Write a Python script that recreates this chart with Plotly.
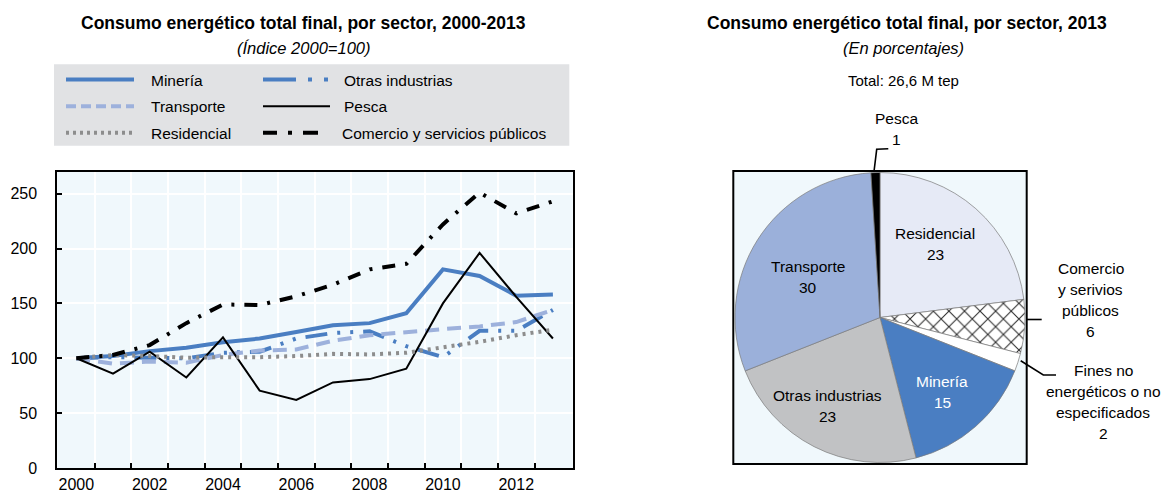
import plotly.graph_objects as go

W, H = 1163, 495
FONT = "Liberation Sans, Arial, Helvetica, sans-serif"

# ---------------- data ----------------
years = list(range(2000, 2014))
mineria = [100, 102, 106.5, 109.5, 114.5, 118, 124, 130, 132, 141, 181, 175, 157, 158]
otras = [100, 101, 100.5, 100, 105, 106, 118, 123, 124.5, 111, 101, 125, 125, 144]
transporte = [100, 95, 97, 96, 103, 107, 108, 116, 121, 124, 126.5, 129, 133, 144]
pesca = [100, 86, 106, 82.5, 119, 70.5, 62, 78, 81, 90.5, 150, 196, 156, 118]
residencial = [100, 103, 102, 100.5, 101, 101, 102, 104, 103.5, 105, 110, 115, 121, 126]
comercio = [100, 103, 112, 132, 149, 148.5, 156.5, 167, 181, 186, 222, 251, 232, 243]

series_names = ["Minería", "Otras industrias", "Transporte", "Pesca", "Residencial",
                "Comercio y servicios públicos"]
series_values = [mineria, otras, transporte, pesca, residencial, comercio]

x_tick_labels = [2000, 2002, 2004, 2006, 2008, 2010, 2012]
y_tick_labels = [0, 50, 100, 150, 200, 250]

pie_labels = ["Residencial", "Comercio y serivios públicos",
              "Fines no energéticos o no especificados", "Minería",
              "Otras industrias", "Transporte", "Pesca"]
pie_values = [23, 6, 2, 15, 23, 30, 1]
pie_label_lines = [["Residencial"], ["Comercio", "y serivios", "públicos"],
                   ["Fines no", "energéticos o no", "especificados"], ["Minería"],
                   ["Otras industrias"], ["Transporte"], ["Pesca"]]

title_left = "Consumo energético total final, por sector, 2000-2013"
sub_left = "(Índice 2000=100)"
title_right = "Consumo energético total final, por sector, 2013"
sub_right = "(En porcentajes)"
total_text = "Total: 26,6 M tep"

# ---------------- styles ----------------
BLUE = "#4A7EC2"
LBLUE = "#9DB1DC"
GRAY = "#8D8D8D"
BASE = 15.5
styles = {
    "Minería": dict(color=BLUE, width=4, dash="solid"),
    "Otras industrias": dict(color=BLUE, width=4, dash="22px,10px,3px,10px,3px,10px"),
    "Transporte": dict(color=LBLUE, width=4, dash="14px,8px"),
    "Pesca": dict(color="black", width=2, dash="solid"),
    "Residencial": dict(color=GRAY, width=4, dash="3px,5px"),
    "Comercio y servicios públicos": dict(color="black", width=4, dash="13px,10px,3px,10px"),
}
legend_dash = {
    "Minería": "solid",
    "Otras industrias": "33px,12px,4px,12px,4px,20px",
    "Transporte": "10px,5px",
    "Pesca": "solid",
    "Residencial": "3px,4px",
    "Comercio y servicios públicos": "14px,11px,4px,11px,15px",
}
pie_colors = ["#E6EAF6", "white", "white", "#4A7EC2", "#C1C2C4", "#9BB0DA", "black"]
pie_patterns = ["", "x", "", "", "", "", ""]
pie_text_colors = ["black", "black", "black", "white", "black", "black", "black"]


def px(x):
    return x / W


def py(y):
    return 1 - y / H


fig = go.Figure()

for name, vals in zip(series_names, series_values):
    st = styles[name]
    fig.add_trace(go.Scatter(x=years, y=vals, mode="lines", name=name,
                             line=dict(color=st["color"], width=st["width"], dash=st["dash"]),
                             showlegend=False, xaxis="x", yaxis="y"))

# pie
pie_box = (733.3, 171.0, 1026.7, 464.0)
fig.add_trace(go.Pie(
    labels=pie_labels, values=pie_values, sort=False, direction="clockwise", rotation=0,
    marker=dict(colors=pie_colors, line=dict(color="#7A7A7A", width=0.7),
                pattern=dict(shape=pie_patterns, fgcolor="#2B2B2B", bgcolor="white",
                             size=11, solidity=0.18)),
    textinfo="none", hoverinfo="label+value", showlegend=False,
    domain=dict(x=[px(pie_box[0] + 1.5), px(pie_box[2] - 1.5)],
                y=[py(pie_box[3] - 1.5), py(pie_box[1] + 1.5)]),
))

x0, x1, ytop, ybot = 57.3, 572.7, 171.7, 468.0
fig.update_layout(
    width=W, height=H, margin=dict(l=0, r=0, t=0, b=0),
    paper_bgcolor="white", plot_bgcolor="#F0F8FC",
    font=dict(family=FONT, size=BASE, color="black"),
    xaxis=dict(domain=[px(x0), px(x1)], range=[1999.48, 2013.54], automargin=False,
               tickmode="array", tickvals=x_tick_labels, ticktext=[str(v) for v in x_tick_labels],
               ticks="", showgrid=False, zeroline=False,
               showline=True, linecolor="black", linewidth=2, mirror=True,
               tickfont=dict(size=16), ticklabelstandoff=1,
               minor=dict(tickmode="array", tickvals=[y + 0.5 for y in years[:-1]],
                          ticks="inside", ticklen=5, tickwidth=1.5, tickcolor="black",
                          showgrid=True, gridcolor="white", gridwidth=1.5)),
    yaxis=dict(domain=[py(ybot), py(ytop)], range=[0, 270], automargin=False,
               tickmode="array", tickvals=y_tick_labels,
               ticks="inside", ticklen=5, tickwidth=1.5, tickcolor="black",
               showgrid=True, gridcolor="white", gridwidth=1.5, zeroline=False,
               showline=True, linecolor="black", linewidth=2, mirror=True,
               tickfont=dict(size=16), ticklabelstandoff=15),
)

shapes = []
annotations = []


def ann(text, x, y, size=BASE, color="black", xanchor="center", bold=False, italic=False):
    if bold:
        text = "<b>" + text + "</b>"
    if italic:
        text = "<i>" + text + "</i>"
    annotations.append(dict(text=text, x=px(x), y=py(y), xref="paper", yref="paper",
                            xanchor=xanchor, yanchor="middle", showarrow=False,
                            font=dict(size=size, color=color, family=FONT)))


# titles
ann(title_left, 303, 23, size=17.5, bold=True)
ann(sub_left, 303, 48.5, size=16.5, italic=True)
ann(title_right, 906.5, 23, size=17.5, bold=True)
ann(sub_right, 903, 48.5, size=16.5, italic=True)
ann(total_text, 903, 80, size=15)

# manual legend
shapes.append(dict(type="rect", xref="paper", yref="paper", x0=px(54), x1=px(569.3),
                   y0=py(145.7), y1=py(64.3), fillcolor="#E1E2E4", line=dict(width=0),
                   layer="below"))
legend_pos = {
    "Minería": (66, 134, 148.5, 80),
    "Transporte": (66, 134, 148.5, 106.7),
    "Residencial": (66, 134, 148.5, 133.3),
    "Otras industrias": (263, 330, 341.5, 80),
    "Pesca": (263, 330, 341.5, 106.7),
    "Comercio y servicios públicos": (263, 330, 339.5, 133.3),
}
for name in series_names:
    sx0, sx1, tx, ty = legend_pos[name]
    st = styles[name]
    shapes.append(dict(type="line", xref="paper", yref="paper", x0=px(sx0), x1=px(sx1),
                       y0=py(ty - 0.5), y1=py(ty - 0.5),
                       line=dict(color=st["color"], width=st["width"], dash=legend_dash[name])))
    ann(name, tx, ty, xanchor="left")

# pie frame
shapes.append(dict(type="rect", xref="paper", yref="paper", x0=px(pie_box[0]), x1=px(pie_box[2]),
                   y0=py(pie_box[3]), y1=py(pie_box[1]), fillcolor="#F0F8FC",
                   line=dict(color="black", width=2), layer="below"))

# pie labels (first-line centre positions)
label_pos = {
    "Residencial": (935, 233.3),
    "Comercio y serivios públicos": (1090.7, 268.3),
    "Fines no energéticos o no especificados": (1103.3, 370),
    "Minería": (942.3, 381.7),
    "Otras industrias": (827.7, 395),
    "Transporte": (807.7, 266.7),
    "Pesca": (896.7, 118.3),
}
LINE_H = 21.2
for lab, lines, val, tc in zip(pie_labels, pie_label_lines, pie_values, pie_text_colors):
    lx, ly = label_pos[lab]
    for i, t in enumerate(lines + [str(val)]):
        ann(t, lx, ly + i * LINE_H, color=tc)


def path(points):
    return "M " + " L ".join(f"{px(a)},{py(b)}" for a, b in points)


leaders = [
    [(888.3, 148.7), (876.7, 149.3), (874.0, 171.5)],
    [(1026.7, 319.5), (1041.7, 319.5)],
    [(1020.7, 360.7), (1043.3, 375.0), (1056.0, 375.0)],
]
for pts in leaders:
    shapes.append(dict(type="path", xref="paper", yref="paper", path=path(pts),
                       line=dict(color="black", width=1.6)))

fig.update_layout(shapes=shapes, annotations=annotations)
fig.write_html("out.html", config={"displayModeBar": False},
               post_script="document.body.style.margin='0px';document.body.style.padding='0px';")
